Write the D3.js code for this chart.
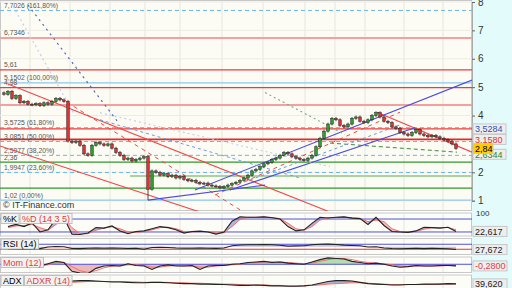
<!DOCTYPE html>
<html>
<head>
<meta charset="utf-8">
<script src="https://cdn.jsdelivr.net/npm/d3@7"></script>
<style>
body { margin: 0; background: #fff; }
svg { display: block; font-family: "Liberation Sans", Arial, sans-serif; }
</style>
</head>
<body>
<script>
// daily closes, one per bar
const closes = [4.75, 4.85, 4.6, 4.7, 4.45, 4.5, 4.4, 4.38, 4.42, 4.35, 4.45, 4.4, 4.5, 4.6, 4.55, 4.5,
    3.1, 3.05, 3.1, 2.95, 2.65, 2.6, 2.95, 3.05, 3.0, 2.95, 3.0, 2.85, 2.7, 2.6, 2.45, 2.5,
    2.4, 2.45, 2.5, 2.55, 1.4, 2.05, 2.0, 1.9, 1.95, 1.85, 1.9, 1.8, 1.85, 1.75, 1.7, 1.72,
    1.65, 1.6, 1.62, 1.55, 1.52, 1.5, 1.45, 1.5, 1.55, 1.6, 1.65, 1.72, 1.8, 1.9, 2.05, 2.1,
    2.2, 2.3, 2.35, 2.45, 2.5, 2.6, 2.7, 2.65, 2.55, 2.5, 2.45, 2.42, 2.5, 2.6, 2.9, 3.2,
    3.45, 3.7, 3.9, 3.85, 3.65, 3.6, 3.7, 3.9, 3.95, 3.8, 3.75, 3.85, 4.0, 4.1, 3.95, 3.8,
    3.75, 3.6, 3.55, 3.4, 3.35, 3.3, 3.4, 3.5, 3.35, 3.3, 3.25, 3.3, 3.25, 3.2, 3.15, 3.1,
    3.0, 2.84];
const firstOpen = 4.8;
const lowSpikes = { 36: 1.02 };

// indicators, one value every second bar
const stochK = [45, 55, 45, 62, 20, 30, 80, 85, 10, 8, 15, 40, 38, 48, 25, 12, 22, 25, 35, 45,
    40, 30, 15, 22, 24, 20, 10, 20, 70, 90, 88, 88, 90, 86, 80, 45, 25, 30, 60, 88,
    85, 88, 90, 84, 82, 55, 88, 50, 22, 20, 18, 25, 42, 40, 38, 42, 22.617];
const stochD = [40, 48, 50, 55, 40, 28, 55, 80, 40, 12, 12, 28, 38, 44, 35, 20, 18, 22, 30, 40,
    42, 35, 22, 20, 22, 22, 15, 16, 45, 78, 88, 88, 89, 87, 82, 60, 35, 28, 45, 75,
    86, 87, 88, 86, 83, 68, 75, 68, 35, 22, 20, 22, 33, 40, 40, 41, 30];
const rsi = [32, 30, 28, 30, 35, 48, 52, 50, 36, 35, 38, 40, 38, 40, 38, 36, 38, 30, 44, 46,
    44, 40, 38, 38, 39, 38, 37, 40, 58, 64, 66, 66, 68, 66, 62, 55, 57, 58, 66, 70,
    71, 68, 63, 60, 58, 48, 50, 40, 36, 34, 36, 38, 35, 38, 36, 34, 27.672];
const mom = [-0.4, -0.5, -0.3, -0.2, -0.3, 0.1, 0.5, 0.3, -1.2, -1.5, -1.6, -0.7, -0.3, -0.2, -0.3, 0.1, -0.2, -0.3, -0.9, -0.3,
    -0.1, -0.3, -0.3, -0.2, -0.9, -0.3, -0.2, -0.2, 0.0, 0.1, 0.3, 0.4, 0.5, 0.3, 0.4, 0.2, 0.1, 0.0, 0.4, 0.8,
    1.1, 1.0, 0.9, 0.5, 0.3, 0.1, 0.2, 0.0, -0.3, -0.5, -0.4, -0.2, -0.3, -0.3, -0.2, -0.2, -0.28];
const momAvg = [-0.3, -0.4, -0.4, -0.3, -0.3, -0.1, 0.2, 0.3, -0.4, -1.1, -1.4, -1.1, -0.6, -0.3, -0.3, -0.1, -0.1, -0.2, -0.5, -0.5,
    -0.3, -0.2, -0.3, -0.3, -0.5, -0.5, -0.3, -0.2, -0.1, 0.0, 0.2, 0.3, 0.4, 0.4, 0.4, 0.3, 0.2, 0.1, 0.2, 0.5,
    0.8, 1.0, 1.0, 0.8, 0.5, 0.3, 0.2, 0.1, -0.1, -0.3, -0.4, -0.3, -0.3, -0.3, -0.3, -0.2, -0.25];
const adx = [38, 39, 40, 40, 41, 42, 42, 44, 46, 47, 47, 46, 45, 44, 44, 43, 42, 42, 43, 43,
    42, 41, 40, 40, 39, 39, 38, 38, 37, 36, 36, 37, 36, 35, 35, 34, 34, 35, 37, 41,
    45, 47, 47, 46, 43, 40, 39, 38, 37, 37, 38, 38, 39, 39, 39, 40, 39.62];
const adxr = [40, 40, 40, 40, 41, 41, 41, 42, 43, 44, 45, 45, 45, 45, 45, 44, 44, 43, 43, 43,
    43, 42, 42, 41, 41, 40, 40, 39, 39, 38, 37, 37, 37, 36, 36, 35, 35, 35, 36, 37,
    39, 40, 41, 42, 42, 41, 40, 39, 38, 38, 38, 38, 38, 38, 39, 39, 39.5];

// horizontal levels (Fibonacci, supports, resistances)
const levels = [7.7026, 6.7346, 5.61, 5.1502, 4.98, 4.37, 3.5725, 3.5284, 3.158, 3.0851,
    2.5977, 2.36, 1.9947, 1.87, 1.44, 1.02];
const levelKinds = ['fib', 'res2', 'res', 'fib0', 'res', 'res2', 'fib', 'res', 'resB', 'fib',
    'fib', 'sup', 'fib', 'sup2', 'sup', 'fib0'];
const levelLabels = ['7,7026 (161,80%)', '6,7346', '5,61', '5,1502 (100,00%)', '4,98', '', '3,5725 (61,80%)', '', '', '3,0851 (50,00%)',
    '2,5977 (38,20%)', '2,36', '1,9947 (23,60%)', '', '', '1,02 (0,00%)'];
const levelStart = { 13: 31.5 };

// trend lines: [bar, price, bar, price]
const trendLines = [
    [1, 5.11, 81.5, 0.6],
    [-1, 2.93, 49, 0.6],
    [14, 4.62, 59, 0.68],
    [93.25, 4.12, 117, 2.71],
    [52.75, 1.2, 99, 4.12],
    [47.75, 1.38, 117, 5.25],
    [56.5, 1.38, 102.75, 3.57],
    [36, 1.02, 65.25, 1.55],
    [6, 7.89, 28.5, 3.77],
    [24, 3.85, 74, 1.8],
    [2.25, 7.85, 17.75, 4.0],
    [24, 4.1, 81.5, 2.2],
    [65.25, 4.81, 85.25, 3.33],
    [81.5, 3.03, 113.25, 2.71],
    [61.5, 1.73, 99, 3.67]
];
const trendKinds = ['red', 'red', 'redDash', 'red', 'redDash', 'blue', 'blue', 'blue', 'blueDot', 'blueDash',
    'paleDot', 'paleDot', 'greyDot', 'greenDash', 'blueDash'];

const monthBars = [6.5, 16.5, 26.5, 35.25, 44, 54.5, 64.75, 75.25, 82.75, 90.25, 100, 109.75];
const priceTicks = [1, 2, 4, 5, 6, 7, 8];

const W = 512, H = 288, PR = 472;

const styles = {
    fib: { c: '#6ab8ec', w: 1, d: '4,3' },
    fib0: { c: '#8ccaf0', w: 1.2, d: null },
    res: { c: '#f03a3a', w: 1.2, d: null },
    resB: { c: '#e82828', w: 1.8, d: null },
    res2: { c: '#f5a0a0', w: 2, d: null },
    sup: { c: '#2e9a2e', w: 1.2, d: null },
    sup2: { c: '#a8d4a0', w: 2, d: null },
    red: { c: '#f04848', w: 1.1, d: null },
    redDash: { c: '#f04848', w: 1, d: '4,4' },
    blue: { c: '#4a4ae6', w: 1.1, d: null },
    blueDot: { c: '#4a68b8', w: 1.2, d: '2,4' },
    blueDash: { c: '#6a9ae0', w: 1, d: '3,3' },
    paleDot: { c: '#c8cdf0', w: 1.2, d: '2,3' },
    greyDot: { c: '#7ea67e', w: 1.1, d: '2,3' },
    greenDash: { c: '#3a8a3a', w: 1, d: '4,3' }
};

let svg = d3.select('body').append('svg')
    .attr('width', W)
    .attr('height', H);

svg.append('rect').attr('width', W).attr('height', H).attr('fill', '#ffffff');
svg.append('rect').attr('x', PR).attr('width', W - PR).attr('height', H).attr('fill', '#e3fbfb');

let x = d3.scaleLinear().domain([0, closes.length - 1]).range([4, 456]);
let y = d3.scaleLinear().domain([1, 8]).range([200.7, 2]);

// panels
const panels = [
    { top: 0, bottom: 211 },
    { top: 212.5, bottom: 236.5 },
    { top: 238, bottom: 255 },
    { top: 256.5, bottom: 273 },
    { top: 274.5, bottom: 290 }
];

let defs = svg.append('defs');
panels.forEach((p, i) => {
    defs.append('clipPath').attr('id', 'clip' + i)
        .append('rect').attr('x', 0).attr('y', p.top).attr('width', PR).attr('height', p.bottom - p.top);
    svg.append('rect')
        .attr('x', 0.5).attr('y', p.top + 0.5)
        .attr('width', PR - 1).attr('height', p.bottom - p.top - 1)
        .attr('fill', i === 0 ? '#fcfcf4' : '#fdfdf8')
        .attr('stroke', '#c8c8c8');
    svg.selectAll(null)
        .data(monthBars)
        .enter()
        .append('line')
        .attr('x1', d => x(d)).attr('x2', d => x(d))
        .attr('y1', p.top + 1).attr('y2', p.bottom - 1)
        .attr('stroke', '#e6e6dc');
});

let main = svg.append('g').attr('clip-path', 'url(#clip0)');

main.selectAll('line.grid')
    .data(priceTicks)
    .enter()
    .append('line')
    .attr('x1', 0).attr('x2', PR)
    .attr('y1', d => y(d)).attr('y2', d => y(d))
    .attr('stroke', '#ecece4');

// horizontal levels
main.selectAll('line.level')
    .data(levels)
    .enter()
    .append('line')
    .attr('x1', (d, i) => levelStart[i] !== undefined ? x(levelStart[i]) : 0)
    .attr('x2', PR)
    .attr('y1', d => y(d)).attr('y2', d => y(d))
    .attr('stroke', (d, i) => styles[levelKinds[i]].c)
    .attr('stroke-width', (d, i) => styles[levelKinds[i]].w)
    .attr('stroke-dasharray', (d, i) => styles[levelKinds[i]].d);

main.selectAll('text.level')
    .data(levels)
    .enter()
    .append('text')
    .attr('x', 4)
    .attr('y', d => y(d) - 2.5)
    .attr('font-size', 6.8)
    .attr('fill', '#555')
    .text((d, i) => levelLabels[i]);

// trend lines
main.selectAll('line.trend')
    .data(trendLines)
    .enter()
    .append('line')
    .attr('x1', d => x(d[0])).attr('y1', d => y(d[1]))
    .attr('x2', d => x(d[2])).attr('y2', d => y(d[3]))
    .attr('stroke', (d, i) => styles[trendKinds[i]].c)
    .attr('stroke-width', (d, i) => styles[trendKinds[i]].w)
    .attr('stroke-dasharray', (d, i) => styles[trendKinds[i]].d);

// candles
let bars = closes.map((c, i) => {
    let o = i === 0 ? firstOpen : closes[i - 1];
    let hi = Math.max(o, c) + 0.05;
    let lo = lowSpikes[i] !== undefined ? lowSpikes[i] : Math.min(o, c) - 0.05;
    return { i, o, c, hi, lo };
});

let candle = main.selectAll('g.candle')
    .data(bars)
    .enter()
    .append('g');

candle.append('line')
    .attr('x1', d => x(d.i)).attr('x2', d => x(d.i))
    .attr('y1', d => y(d.hi)).attr('y2', d => y(d.lo))
    .attr('stroke', '#222')
    .attr('stroke-width', 0.8);

candle.append('rect')
    .attr('x', d => x(d.i) - 1.3)
    .attr('width', 2.6)
    .attr('y', d => y(Math.max(d.o, d.c)))
    .attr('height', d => Math.max(1, Math.abs(y(d.o) - y(d.c))))
    .attr('fill', d => d.c >= d.o ? '#2aa02a' : '#e03030')
    .attr('stroke', '#222')
    .attr('stroke-width', 0.5);

main.append('text')
    .attr('x', 3).attr('y', 208)
    .attr('font-size', 9)
    .attr('fill', '#333')
    .text('\u00a9 IT-Finance.com');

// right price axis
let axis = svg.append('g')
    .attr('transform', `translate(${PR},0)`)
    .call(d3.axisRight(y).tickValues(priceTicks).tickSize(3).tickFormat(d3.format('d')));
axis.select('.domain').attr('stroke', '#aaa');
axis.selectAll('line').attr('stroke', '#666');
axis.selectAll('text').attr('font-size', 10).attr('fill', '#333').attr('x', 6);

// price tags
const tags = [
    { v: 2.6344, t: '2,6344', c: '#2a8a2a', bg: '#eeeeee', w: 33 },
    { v: 3.5284, t: '3,5284', c: '#3050b0', bg: '#eeeeee', w: 33 },
    { v: 3.158, t: '3,1580', c: '#e03030', bg: '#eeeeee', w: 33 },
    { v: 2.84, t: '2,84', c: '#000', bg: '#ffcc00', w: 20 }
];
tags.forEach(tg => {
    let g = svg.append('g').attr('transform', `translate(${PR + 1},${y(tg.v)})`);
    g.append('rect')
        .attr('x', 0).attr('y', -5)
        .attr('width', tg.w).attr('height', 10)
        .attr('fill', tg.bg).attr('stroke', '#c8c8c8');
    g.append('text')
        .attr('x', 2).attr('y', 3.3)
        .attr('font-size', 9)
        .attr('fill', tg.c)
        .text(tg.t);
});

// sub panels
let xi = j => x(2 * j + 1);

let yS = d3.scaleLinear().domain([0, 100]).range([236.3, 214.7]);
let yR = d3.scaleLinear().domain([0, 100]).range([253, 240.5]);
let yM = d3.scaleLinear().domain([-1.5, 1.2]).range([273, 257.3]);
let yA = d3.scaleLinear().domain([30, 60]).range([288, 275]);

function hline(g, yy, color) {
    g.append('line')
        .attr('x1', 0).attr('x2', PR)
        .attr('y1', yy).attr('y2', yy)
        .attr('stroke', color).attr('stroke-width', 1);
}

function plotLine(g, data, sy, color, w) {
    g.append('path')
        .datum(data)
        .attr('d', d3.line().x((d, j) => xi(j)).y(d => sy(d)))
        .attr('fill', 'none')
        .attr('stroke', color)
        .attr('stroke-width', w);
}

// stochastic
let gS = svg.append('g').attr('clip-path', 'url(#clip1)');
stochK.forEach((k, j) => {
    if (j === stochK.length - 1) return;
    let d0 = stochD[j], d1 = stochD[j + 1], k1 = stochK[j + 1];
    gS.append('path')
        .attr('d', `M${xi(j)},${yS(k)}L${xi(j + 1)},${yS(k1)}L${xi(j + 1)},${yS(d1)}L${xi(j)},${yS(d0)}Z`)
        .attr('fill', (k + k1) >= (d0 + d1) ? '#9a9ad6' : '#f0a8a8')
        .attr('opacity', 0.75);
});
hline(gS, yS(80), '#5050e0');
hline(gS, yS(20), '#5050e0');
plotLine(gS, stochD, yS, '#f07070', 1);
plotLine(gS, stochK, yS, '#222', 1.1);

// rsi
let gR = svg.append('g').attr('clip-path', 'url(#clip2)');
gR.append('path')
    .datum(rsi)
    .attr('d', d3.area().x((d, j) => xi(j)).y0(yR(50)).y1(d => yR(d)))
    .attr('fill', '#8c92c4').attr('opacity', 0.5);
hline(gR, yR(70), '#5050e0');
hline(gR, yR(30), '#f03030');
plotLine(gR, rsi, yR, '#222', 1.1);

// momentum
let gM = svg.append('g').attr('clip-path', 'url(#clip3)');
gM.append('path')
    .datum(mom)
    .attr('d', d3.area().x((d, j) => xi(j)).y0(yM(0)).y1(d => yM(Math.max(0, d))))
    .attr('fill', '#9fd49a').attr('opacity', 0.8);
gM.append('path')
    .datum(mom)
    .attr('d', d3.area().x((d, j) => xi(j)).y0(yM(0)).y1(d => yM(Math.min(0, d))))
    .attr('fill', '#e8a8a8').attr('opacity', 0.8);
hline(gM, yM(0), '#5050e0');
plotLine(gM, momAvg, yM, '#f07070', 1);
plotLine(gM, mom, yM, '#222', 1.1);

// adx
let gA = svg.append('g').attr('clip-path', 'url(#clip4)');
gA.append('path')
    .datum(adx)
    .attr('d', d3.area().x((d, j) => xi(j)).y0((d, j) => yA(adxr[j])).y1(d => yA(d)))
    .attr('fill', '#7d7dc0').attr('opacity', 0.6);
plotLine(gA, adxr, yA, '#f07070', 1);
plotLine(gA, adx, yA, '#222', 1.1);

// panel titles
const titles = [
    { y: 213.5, parts: [['%K', '#000'], ['%D (14 3 5)', '#e04040']] },
    { y: 239, parts: [['RSI (14)', '#000']] },
    { y: 257.5, parts: [['Mom (12)', '#e04040']] },
    { y: 275.5, parts: [['ADX', '#000'], ['ADXR (14)', '#e04040']] }
];
titles.forEach(t => {
    let cx = 1;
    t.parts.forEach(p => {
        let g = svg.append('g').attr('transform', `translate(${cx},${t.y})`);
        let box = g.append('rect')
            .attr('height', 10)
            .attr('fill', '#f2f2f2').attr('stroke', '#c0c0c0');
        let txt = g.append('text')
            .attr('x', 2).attr('y', 8)
            .attr('font-size', 9)
            .attr('fill', p[1])
            .text(p[0]);
        let w = txt.node().getComputedTextLength() + 4;
        box.attr('width', w);
        cx += w + 1;
    });
});

// right labels for sub panels
const sideTags = [
    { y: yS(22.617), t: '22,617', c: '#222' },
    { y: yR(27.672), t: '27,672', c: '#222' },
    { y: yM(-0.28), t: '-0,2800', c: '#e04040' },
    { y: yA(39.62), t: '39,620', c: '#222' }
];
svg.append('text').attr('x', PR + 4).attr('y', 216).attr('font-size', 8).attr('fill', '#333').text('100');
sideTags.forEach(tg => {
    svg.append('rect')
        .attr('x', PR + 1).attr('y', tg.y - 5)
        .attr('width', 34).attr('height', 10)
        .attr('fill', '#eeeeee').attr('stroke', '#c8c8c8');
    svg.append('text')
        .attr('x', PR + 3).attr('y', tg.y + 3.3)
        .attr('font-size', 9)
        .attr('fill', tg.c)
        .text(tg.t);
});
</script>
</body>
</html>
